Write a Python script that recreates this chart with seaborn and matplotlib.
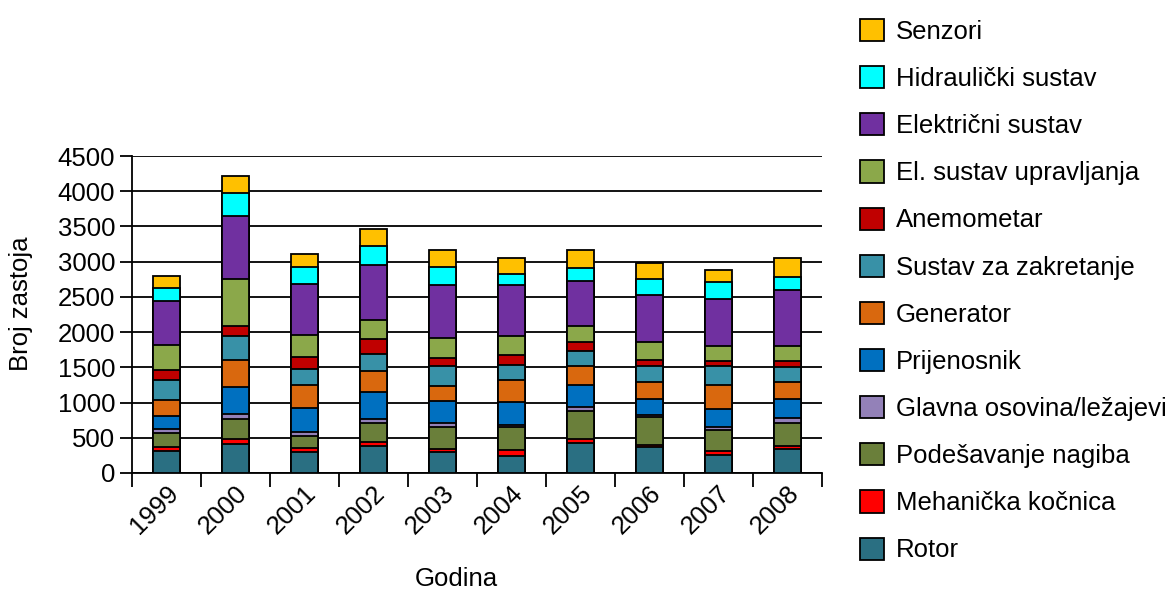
import numpy as np
import pandas as pd
import seaborn as sns
import matplotlib
matplotlib.use("Agg")
import matplotlib.pyplot as plt
import matplotlib.transforms as mtransforms
from matplotlib.patches import Patch

years = ['1999', '2000', '2001', '2002', '2003', '2004', '2005', '2006', '2007', '2008']

rotor = [307, 416, 293, 378, 293, 246, 425, 364, 260, 340]
mehanicka_kocnica = [57, 66, 62, 62, 52, 85, 57, 33, 47, 48]
podesavanje_nagiba = [203, 284, 174, 269, 307, 321, 392, 392, 308, 321]
glavna_osovina = [57, 75, 48, 57, 57, 33, 62, 29, 33, 71]
prijenosnik = [189, 379, 345, 383, 307, 322, 317, 231, 264, 274]
generator = [227, 378, 331, 302, 222, 307, 260, 241, 341, 236]
sustav_zakretanje = [274, 340, 227, 241, 275, 222, 212, 223, 260, 208]
anemometar = [151, 151, 165, 208, 118, 142, 128, 85, 71, 86]
el_sustav_upravljanja = [350, 662, 317, 274, 283, 270, 236, 260, 222, 212]
elektricni_sustav = [629, 898, 723, 780, 757, 723, 638, 671, 662, 804]
hidraulicki_sustav = [180, 322, 246, 270, 250, 156, 180, 227, 241, 180]
senzori = [174, 245, 175, 236, 246, 222, 260, 231, 175, 269]

series_names = ['Rotor', 'Mehanička kočnica', 'Podešavanje nagiba', 'Glavna osovina/ležajevi',
                'Prijenosnik', 'Generator', 'Sustav za zakretanje', 'Anemometar',
                'El. sustav upravljanja', 'Električni sustav', 'Hidraulički sustav', 'Senzori']
series_values = [rotor, mehanicka_kocnica, podesavanje_nagiba, glavna_osovina, prijenosnik,
                 generator, sustav_zakretanje, anemometar, el_sustav_upravljanja,
                 elektricni_sustav, hidraulicki_sustav, senzori]
colors = ['#2A6F82', '#FF0000', '#6A7F3A', '#9381B8', '#0070C0', '#D9680E',
          '#3891A7', '#C00000', '#8BA84A', '#7030A0', '#00FFFF', '#FFC000']

sns.set_style("white")
plt.rcParams['font.family'] = ['Liberation Sans', 'DejaVu Sans']
plt.rcParams['text.color'] = 'black'
plt.rcParams['axes.labelcolor'] = 'black'
plt.rcParams['xtick.color'] = 'black'
plt.rcParams['ytick.color'] = 'black'

FS = 18.5

fig = plt.figure(figsize=(11.71, 5.92), dpi=100)
ax = fig.add_axes([132/1171, 1-473/592, 690/1171, 317/592])

cum = np.cumsum(np.array(series_values), axis=0)
# draw from the top layer down so lower layers overlay
for i in range(len(series_names) - 1, -1, -1):
    df = pd.DataFrame({'Godina': years, 'val': cum[i]})
    sns.barplot(data=df, x='Godina', y='val', color=colors[i], width=0.39,
                edgecolor='black', linewidth=1.3, errorbar=None, ax=ax,
                saturation=1, zorder=3)

ax.set_ylim(0, 4500)
ax.set_xlim(-0.5, 9.5)
ax.set_yticks(np.arange(0, 4501, 500))
ax.yaxis.grid(True, color='black', linewidth=1.3, zorder=0)
ax.set_axisbelow(True)
for s in ['top', 'right']:
    ax.spines[s].set_visible(False)
for s in ['left', 'bottom']:
    ax.spines[s].set_color('black')
    ax.spines[s].set_linewidth(1.3)

ax.tick_params(axis='y', which='major', length=9, width=1.3, color='black',
               labelsize=FS, labelcolor='black', pad=3, left=True)
ax.set_xticks(range(len(years)))
ax.set_xticklabels(years)
ax.set_xticks(np.arange(-0.5, 10, 1.0), minor=True)
ax.tick_params(axis='x', which='major', length=0, labelsize=FS, labelcolor='black', pad=6)
ax.tick_params(axis='x', which='minor', length=10, width=1.3, color='black', bottom=True)
offset = mtransforms.ScaledTranslation(0.165, 0, fig.dpi_scale_trans)
for lab in ax.get_xticklabels():
    lab.set_rotation(45)
    lab.set_ha('right')
    lab.set_transform(lab.get_transform() + offset)

ax.set_xlabel('Godina', fontsize=FS, color='black')
ax.xaxis.set_label_coords(0.4696, -0.295)
ax.set_ylabel('Broj zastoja', fontsize=FS, color='black')
ax.yaxis.set_label_coords(-0.143, 0.533)

handles = [Patch(facecolor=colors[i], edgecolor='black', linewidth=1.3, label=series_names[i])
           for i in range(len(series_names) - 1, -1, -1)]
fig.legend(handles=handles, loc='upper left', bbox_to_anchor=(860/1171, 1-19/592),
           frameon=False, fontsize=FS, handlelength=0.95, handleheight=0.95,
           handletextpad=0.45, labelspacing=0.865, borderpad=0, borderaxespad=0,
           labelcolor='black')

fig.savefig('out.png', dpi=100)
